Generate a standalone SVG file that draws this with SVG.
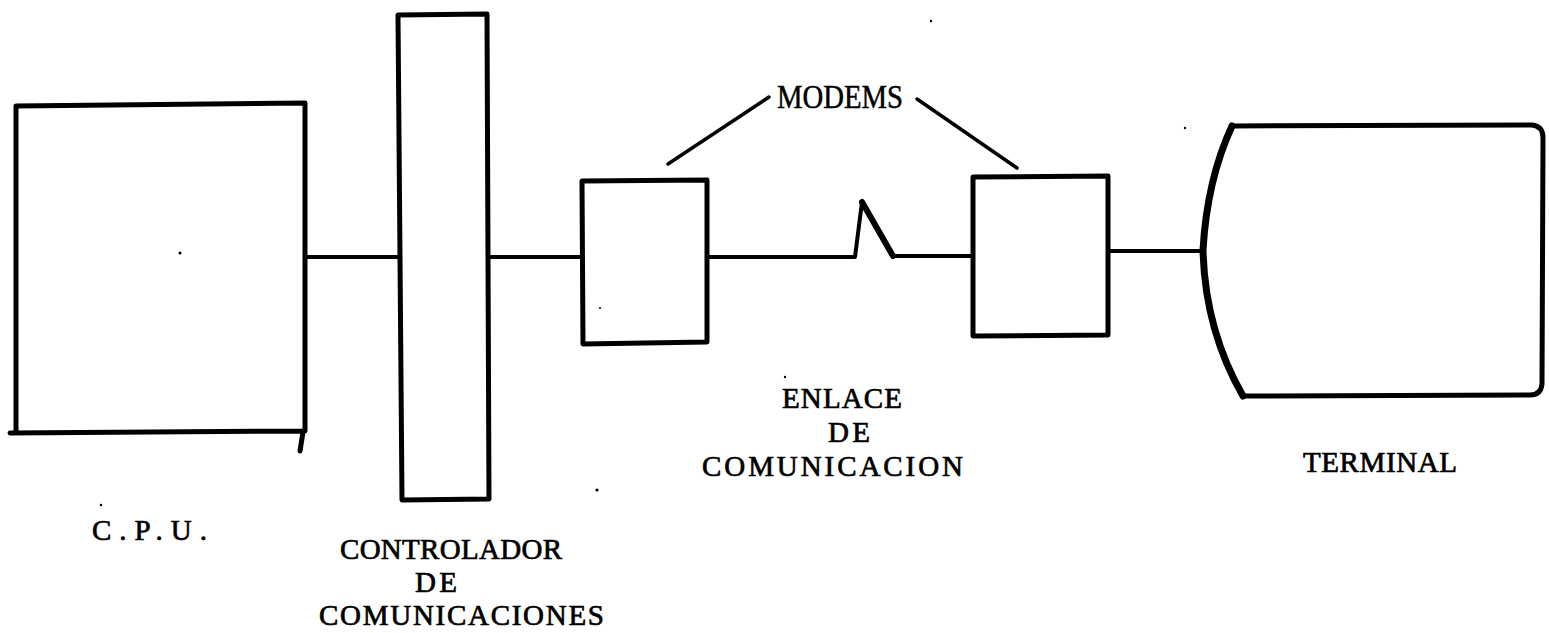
<svg xmlns="http://www.w3.org/2000/svg" width="1549" height="633" viewBox="0 0 1549 633">
  <style>
    .box { fill: none; stroke: #000; stroke-width: 5; stroke-linejoin: round; stroke-linecap: round; }
    .wire { fill: none; stroke: #000; stroke-width: 4; stroke-linecap: round; stroke-linejoin: round; }
    .lead { fill: none; stroke: #000; stroke-width: 3.5; stroke-linecap: round; }
    .tw { font-family: "Liberation Serif", "Times New Roman", serif; font-size: 29px; fill: #000; stroke: #000; stroke-width: 0.7; }
    .serif { font-family: "Liberation Serif", "Times New Roman", serif; font-size: 33px; fill: #000; stroke: #000; stroke-width: 0.5; }
    .speck { fill: #000; }
  </style>

  <rect width="1549" height="633" fill="#fff"/>

  <!-- central processing unit -->
  <g id="cpu">
    <path class="box" d="M16,106 L305,103 L305,431 L10,433 M16,106 L16,433 M303,432 L300,451"/>
    <text class="tw" x="92" y="540" textLength="115" lengthAdjust="spacing">C.P.U.</text>
  </g>

  <!-- communications controller -->
  <g id="controller">
    <path class="box" d="M398,15 L487,14 L489,499 L402,500 Z"/>
    <text class="tw" x="340" y="559" textLength="222" lengthAdjust="spacing">CONTROLADOR</text>
    <text class="tw" x="415" y="592" textLength="42" lengthAdjust="spacing">DE</text>
    <text class="tw" x="319" y="625" textLength="285" lengthAdjust="spacing">COMUNICACIONES</text>
  </g>

  <!-- local modem -->
  <g id="modem1">
    <path class="box" d="M582,181 L707,180 L707,342 L583,344 Z"/>
  </g>

  <!-- remote modem -->
  <g id="modem2">
    <path class="box" d="M973,177 L1108,176 L1108,335 L973,336 Z"/>
  </g>

  <!-- remote terminal -->
  <g id="terminal">
    <path class="box" d="M1232,126 L1532,125 Q1543,126 1543,138 L1542,384 Q1541,395 1530,395 L1243,396"/>
    <path d="M1232,126 Q1207,180 1203,250 Q1205,330 1243,396" fill="none" stroke="#000" stroke-width="7" stroke-linecap="round"/>
    <text class="tw" x="1303" y="472" textLength="154" lengthAdjust="spacing">TERMINAL</text>
  </g>

  <!-- modem pair callout -->
  <g id="modems-label">
    <text class="serif" x="777" y="108" textLength="126" lengthAdjust="spacingAndGlyphs">MODEMS</text>
    <path class="lead" d="M668,164 L769,97 M917,99 L1017,168"/>
  </g>

  <!-- communication link label -->
  <g id="link-label">
    <text class="tw" x="782" y="408" textLength="120" lengthAdjust="spacing">ENLACE</text>
    <text class="tw" x="828" y="442" textLength="42" lengthAdjust="spacing">DE</text>
    <text class="tw" x="702" y="476" textLength="261" lengthAdjust="spacing">COMUNICACION</text>
  </g>

  <!-- connectors -->
  <g id="connectors">
    <path class="wire" d="M305,257 L399,257"/>
    <path class="wire" d="M488,257 L582,257"/>
    <path class="wire" d="M707,257 L855,257 L862,202"/>
    <path d="M862,202 L893,256" fill="none" stroke="#000" stroke-width="6" stroke-linecap="round"/>
    <path class="wire" d="M893,256 L973,256"/>
    <path class="wire" d="M1108,251 L1204,251"/>
  </g>

  <!-- specks on the sheet -->
  <g id="specks">
    <circle class="speck" cx="180" cy="253" r="1.5"/>
    <circle class="speck" cx="101" cy="505" r="1.3"/>
    <circle class="speck" cx="600" cy="308" r="1"/>
    <circle class="speck" cx="597" cy="490" r="1.6"/>
    <circle class="speck" cx="931" cy="21" r="1.2"/>
    <circle class="speck" cx="1185" cy="128" r="1.2"/>
    <circle class="speck" cx="785" cy="377" r="1.2"/>
  </g>
</svg>
